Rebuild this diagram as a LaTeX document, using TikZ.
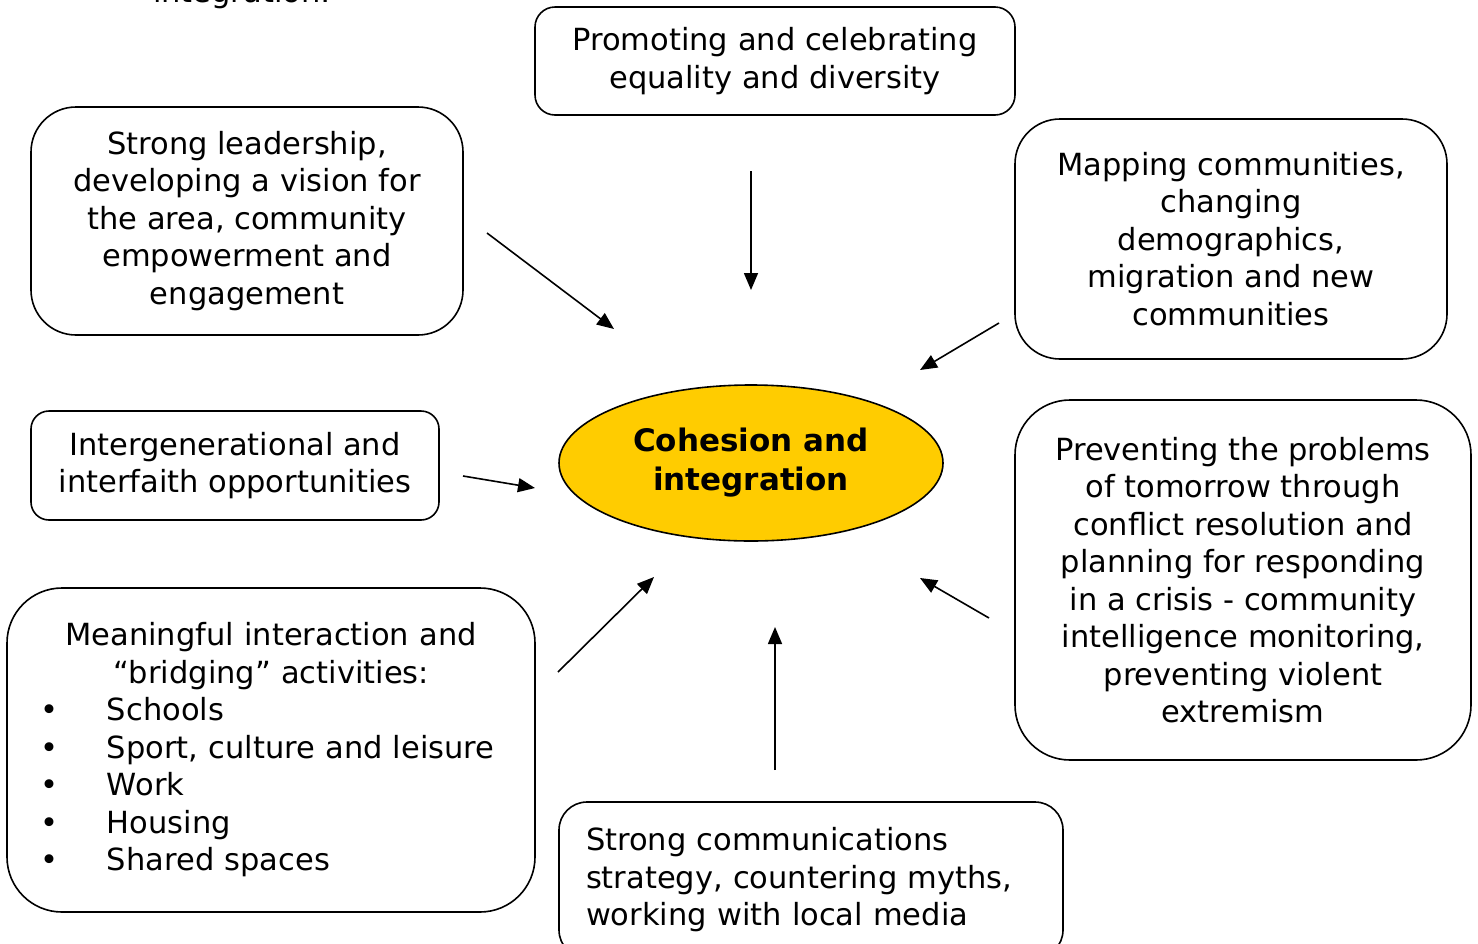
\documentclass[tikz,border=0pt]{standalone}
\usepackage{fontspec}
\setmainfont{DejaVu Sans}
\usetikzlibrary{arrows.meta,shapes.geometric}
\definecolor{gold}{HTML}{FFCC00}
\begin{document}
\begin{tikzpicture}[x=1pt,y=-1pt,
  box/.style={draw,line width=1.6pt,rounded corners=#1,align=center,inner sep=0pt,
    font=\fontsize{30.5}{37.5}\selectfont},
  box/.default=20pt,
  arr/.style={line width=1.6pt,-{Triangle[length=17pt,width=14pt]}},
  txt/.style={font=\fontsize{30.5}{37.5}\selectfont,inner sep=0pt}]
\useasboundingbox (0,0) rectangle (1478,943);

\node[txt,anchor=base] (cap) at (242,2) {integration:};

\node[box=20pt,minimum width=480pt,minimum height=108pt] (promo) at (775,61)
  {Promoting and celebrating\\equality and diversity};
\node[box=45pt,minimum width=432pt,minimum height=228pt] (lead) at (247,221)
  {Strong leadership,\\developing a vision for\\the area, community\\empowerment and\\engagement};
\node[box=45pt,minimum width=432pt,minimum height=240pt] (map) at (1231,239)
  {Mapping communities,\\changing\\demographics,\\migration and new\\communities};
\node[box=18pt,minimum width=408pt,minimum height=109pt] (inter) at (235,465.5)
  {Intergenerational and\\interfaith opportunities};
\node[box=55pt,minimum width=456pt,minimum height=360pt] (prev) at (1243,580)
  {Preventing the problems\\of tomorrow through\\conflict resolution and\\planning for responding\\in a crisis - community\\intelligence monitoring,\\preventing violent\\extremism};
\node[box=55pt,minimum width=528pt,minimum height=324pt,align=left,text width=528pt] (meet) at (271,750)
  {{\centering Meaningful interaction and\\“bridging” activities:\par}
   \hspace*{33pt}\makebox[67pt][l]{•}Schools\\
   \hspace*{33pt}\makebox[67pt][l]{•}Sport, culture and leisure\\
   \hspace*{33pt}\makebox[67pt][l]{•}Work\\
   \hspace*{33pt}\makebox[67pt][l]{•}Housing\\
   \hspace*{33pt}\makebox[67pt][l]{•}Shared spaces};
\node[box=28pt,minimum width=504pt,minimum height=156pt,align=left,text width=450pt] (comm) at (811,880)
  {Strong communications\\strategy, countering myths,\\working with local media};

\node[ellipse,draw,line width=1.6pt,fill=gold,minimum width=384pt,minimum height=156pt,
  inner sep=0pt,align=center,font=\bfseries\fontsize{31}{39}\selectfont] (core) at (751,463)
  {Cohesion and\\integration};

\coordinate (s1) at (487,233); \coordinate (e1) at (614,329);
\coordinate (s2) at (751,171); \coordinate (e2) at (751,290);
\coordinate (s3) at (999,323); \coordinate (e3) at (920,370);
\coordinate (s4) at (463,476); \coordinate (e4) at (535,488);
\coordinate (s5) at (989,618); \coordinate (e5) at (920,578);
\coordinate (s6) at (775,770); \coordinate (e6) at (775,627);
\coordinate (s7) at (558,672); \coordinate (e7) at (654,577);
\foreach \i in {1,...,7} { \draw[arr] (s\i) -- (e\i); }
\end{tikzpicture}
\end{document}
